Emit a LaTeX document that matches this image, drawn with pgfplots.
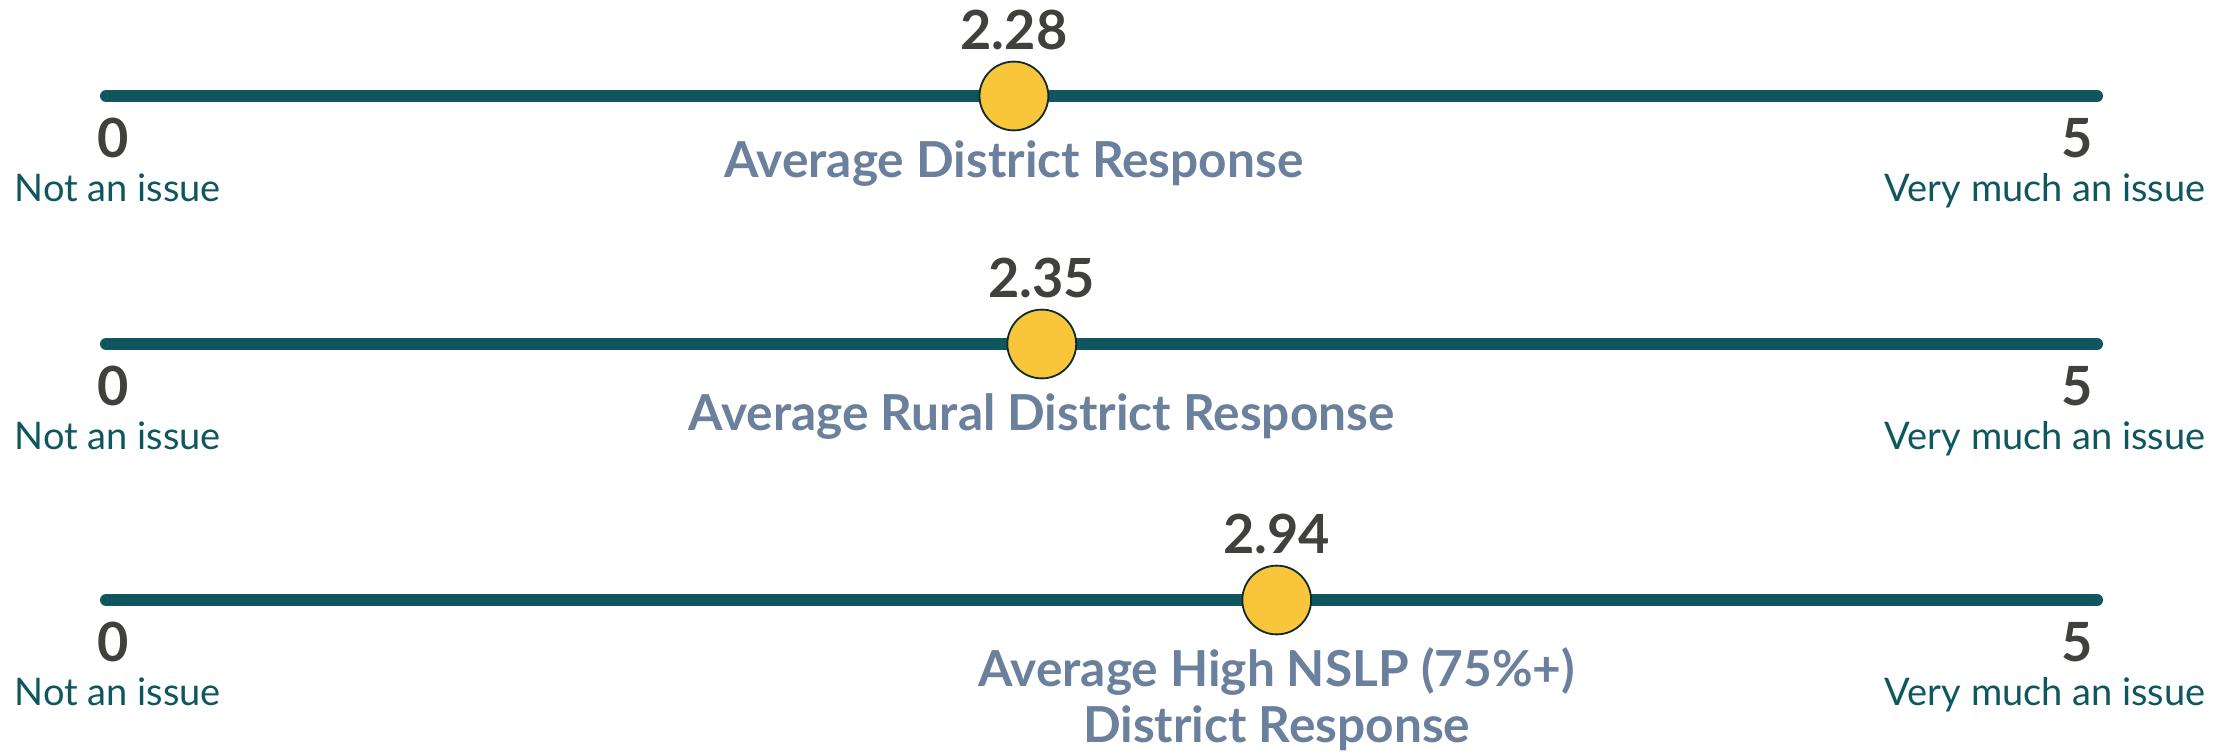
\documentclass[border=0pt]{standalone}
\usepackage{pgfplots}
\pgfplotsset{compat=1.18}
\usepackage{fontspec}
\setmainfont{Lato}
\definecolor{barra}{HTML}{10565F}
\definecolor{groc}{HTML}{F9C53B}
\definecolor{vora}{HTML}{0D2A2C}
\definecolor{xifra}{HTML}{40403C}
\definecolor{titol}{HTML}{6A809C}

% one row per scale: value, y of the line (px from top)
\pgfplotstableread{
val  y
2.28 -96
2.35 -344
2.94 -600
}\punts

\begin{document}
\begin{tikzpicture}
\useasboundingbox (0,0) rectangle (555.75pt,188pt);
\begin{axis}[width=555.75pt,height=188pt,scale only axis,
 xmin=-0.2662,xmax=5.3164,ymin=-752,ymax=0,hide axis,clip=false,
 /pgf/number format/assume math mode=true]
 % the three scale lines
 \addplot[barra,line width=3pt,line cap=round] coordinates {(0,-96) (5,-96)};
 \addplot[barra,line width=3pt,line cap=round] coordinates {(0,-344) (5,-344)};
 \addplot[barra,line width=3pt,line cap=round] coordinates {(0,-600) (5,-600)};
 % end labels
 \foreach \yy in {-96,-344,-600}{
  \edef\tmp{\noexpand\node[anchor=base,text=xifra,font=\noexpand\fontsize{13.5}{15}\noexpand\selectfont\noexpand\bfseries] at (axis cs:0.018,\yy-61) {0};
   \noexpand\node[anchor=base,text=xifra,font=\noexpand\fontsize{13.5}{15}\noexpand\selectfont\noexpand\bfseries] at (axis cs:4.95,\yy-61) {5};
   \noexpand\node[anchor=base,text=barra,font=\noexpand\fontsize{9.5}{12}\noexpand\selectfont] at (axis cs:0.03,\yy-105.5) {Not an issue};
   \noexpand\node[anchor=base,text=barra,font=\noexpand\fontsize{9.5}{12}\noexpand\selectfont] at (axis cs:4.87,\yy-105.5) {Very much an issue};}
  \tmp}
 % averages
 \addplot[only marks,mark=*,mark size=8.6pt,
  mark options={fill=groc,draw=vora,line width=0.45pt},
  nodes near coords,point meta=explicit symbolic,
  every node near coord/.append style={anchor=base,yshift=11.6pt,text=xifra,
   font=\fontsize{13.5}{15}\selectfont\bfseries}]
  table[x=val,y=y,meta=val]{\punts};
 \node[anchor=base,text=titol,font=\fontsize{12.4}{14}\selectfont\bfseries] at (axis cs:2.28,-177) {Average District Response};
 \node[anchor=base,text=titol,font=\fontsize{12.4}{14}\selectfont\bfseries] at (axis cs:2.35,-430) {Average Rural District Response};
 \node[anchor=base,text=titol,font=\fontsize{12.4}{14}\selectfont\bfseries,align=center] at (axis cs:2.94,-686) {Average High NSLP (75\%+)};
 \node[anchor=base,text=titol,font=\fontsize{12.4}{14}\selectfont\bfseries,align=center] at (axis cs:2.94,-742) {District Response};
\end{axis}
\end{tikzpicture}
\end{document}
